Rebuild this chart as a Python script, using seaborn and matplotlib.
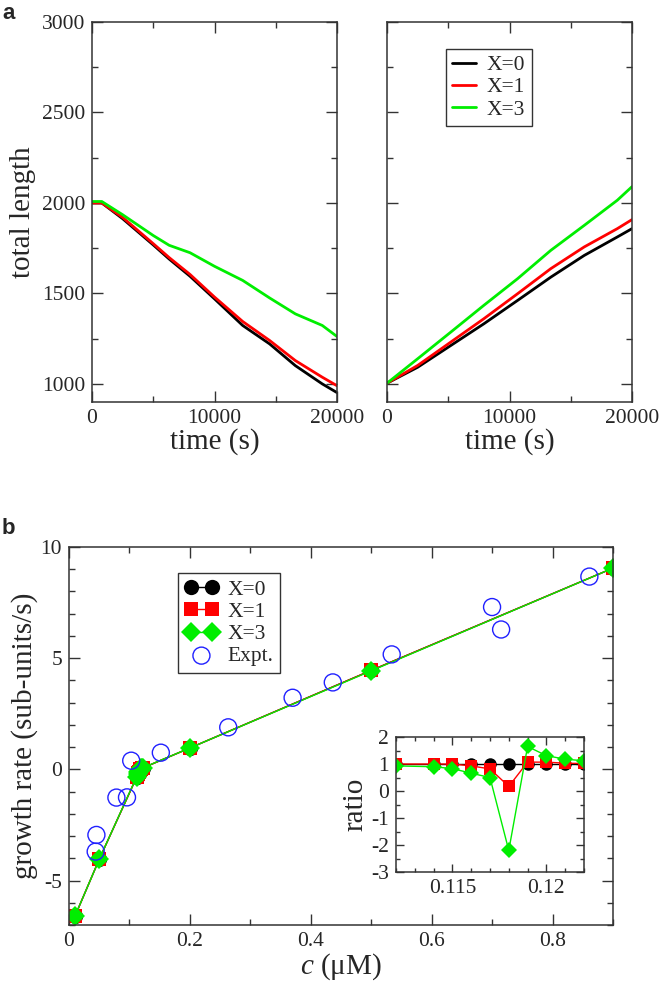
import numpy as np
import pandas as pd
import matplotlib
matplotlib.use('Agg')
import matplotlib.pyplot as plt
from matplotlib.ticker import MultipleLocator, FuncFormatter
import seaborn as sns

# ---- data ----
# panel a, left (shrinking)
t_left = [0, 800, 2500, 5000, 6300, 8000, 10000, 12300, 14500, 16600, 18800, 20000]
left_x0 = [2000, 2000, 1913, 1768, 1690, 1595, 1470, 1323, 1221, 1101, 1000, 952]
left_x1 = [2000, 2000, 1920, 1775, 1698, 1605, 1480, 1345, 1240, 1129, 1037, 990]
left_x3 = [2008, 2008, 1935, 1820, 1766, 1725, 1650, 1572, 1475, 1387, 1323, 1262]

# panel a, right (growing)
t_right = [0, 2500, 5200, 7900, 10650, 13370, 16100, 18800, 20000]
right_x0 = [1004, 1092, 1212, 1332, 1461, 1590, 1710, 1812, 1858]
right_x1 = [1004, 1102, 1231, 1360, 1498, 1637, 1757, 1858, 1908]
right_x3 = [1004, 1139, 1286, 1434, 1581, 1738, 1876, 2015, 2090]

# panel b, simulated growth rates
c_sim = [0.01, 0.05, 0.112, 0.114, 0.115, 0.116, 0.117, 0.118, 0.119, 0.12, 0.121, 0.122, 0.2, 0.5, 0.9]
rate_x0 = [-6.6, -4.05, -0.35, -0.23, -0.17, -0.12, -0.06, 0.01, 0.02, 0.03, 0.045, 0.06, 0.96, 4.45, 9.05]
rate_x1 = [-6.6, -4.05, -0.35, -0.23, -0.17, -0.11, -0.05, 0.002, 0.021, 0.032, 0.046, 0.061, 0.96, 4.45, 9.05]
rate_x3 = [-6.6, -4.05, -0.33, -0.21, -0.14, -0.08, -0.03, -0.022, 0.033, 0.039, 0.053, 0.067, 0.96, 4.43, 9.05]

# experimental points
c_exp = [0.0454, 0.0442, 0.0785, 0.096, 0.103, 0.152, 0.2635, 0.370, 0.4365, 0.534, 0.700, 0.715, 0.861]
rate_exp = [-2.95, -3.70, -1.27, -1.26, 0.39, 0.75, 1.89, 3.22, 3.91, 5.17, 7.30, 6.29, 8.67]

# inset: ratio relative to X=0
c_inset = [0.112, 0.114, 0.115, 0.116, 0.117, 0.118, 0.119, 0.12, 0.121, 0.122]
ratio_x0 = [1, 1, 1, 1, 1, 1, 1, 1, 1, 1]
ratio_x1 = [1.0, 1.0, 1.0, 0.93, 0.82, 0.17, 1.07, 1.07, 1.03, 1.02]
ratio_x3 = [0.93, 0.9, 0.83, 0.66, 0.5, -2.2, 1.65, 1.31, 1.18, 1.12]

labels = ['X=0', 'X=1', 'X=3']
colors = ['black', 'red', '#00ee00']

sns.set_style('ticks')
plt.rcParams['font.family'] = 'serif'
plt.rcParams['font.serif'] = ['Liberation Serif', 'DejaVu Serif']
plt.rcParams['mathtext.fontset'] = 'custom'
plt.rcParams['mathtext.rm'] = 'Liberation Serif'
plt.rcParams['mathtext.it'] = 'Liberation Serif:italic'
plt.rcParams['axes.unicode_minus'] = False

TICK = 15.5
LAB = 21
fmt = FuncFormatter(lambda v, p: f'{round(v, 6):g}')


def style(ax, xmaj, xmin, ymaj, ymin, tl=8, ts=4):
    for s in ax.spines.values():
        s.set_color('#333333')
        s.set_linewidth(1.1)
    ax.xaxis.set_major_locator(MultipleLocator(xmaj))
    ax.xaxis.set_minor_locator(MultipleLocator(xmin))
    ax.yaxis.set_major_locator(MultipleLocator(ymaj))
    ax.yaxis.set_minor_locator(MultipleLocator(ymin))
    ax.xaxis.set_major_formatter(fmt)
    ax.yaxis.set_major_formatter(fmt)
    ax.tick_params(which='both', direction='in', top=True, right=True,
                   color='#333333', labelsize=TICK, width=1)
    ax.tick_params(which='major', length=tl, pad=5)
    ax.tick_params(which='minor', length=ts)


fig = plt.figure(figsize=(6.6, 9.81), dpi=100)
ax1 = fig.add_axes([0.1394, 0.5902, 0.3712, 0.3874])
ax2 = fig.add_axes([0.5864, 0.5902, 0.3712, 0.3874])
ax3 = fig.add_axes([0.1045, 0.0571, 0.8242, 0.3853])
ax4 = fig.add_axes([0.6, 0.1111, 0.2848, 0.1376])

# panel a
for y, col in zip([left_x0, left_x1, left_x3], colors):
    sns.lineplot(x=t_left, y=y, ax=ax1, color=col, lw=2, sort=False, estimator=None)
for y, col, lab in zip([right_x0, right_x1, right_x3], colors, labels):
    sns.lineplot(x=t_right, y=y, ax=ax2, color=col, lw=2, sort=False, estimator=None, label=lab)

for ax in (ax1, ax2):
    ax.set_xlim(0, 20000)
    ax.set_ylim(900, 3000)
    style(ax, 10000, 5000, 500, 250)
    ax.set_xlabel('time (s)', fontsize=LAB, labelpad=0)
ax1.set_ylabel('total length', fontsize=LAB, labelpad=4)
ax2.set_ylabel('')
ax2.tick_params(labelleft=False)

leg = ax2.legend(loc='upper left', bbox_to_anchor=(0.24, 0.93), borderaxespad=0,
                 fontsize=TICK, frameon=True, fancybox=False, handlelength=1.1,
                 handletextpad=0.5, labelspacing=0.1, borderpad=0.3)
leg.get_frame().set_edgecolor('black')
leg.get_frame().set_linewidth(1)

# panel b
markers = ['o', 's', 'D']
msizes = [11, 10.5, 10]
for y, col, lab, m, ms in zip([rate_x0, rate_x1, rate_x3], colors, labels, markers, msizes):
    sns.lineplot(x=c_sim, y=y, ax=ax3, color=col, lw=1, marker=m, markersize=ms,
                 markeredgecolor=col, markeredgewidth=0, sort=False, estimator=None, label=lab)
sns.scatterplot(x=c_exp, y=rate_exp, ax=ax3, marker='o', s=150, facecolor='none',
                edgecolor='#2020ff', linewidth=1, label='Expt.', zorder=5)
ax3.set_xlim(0, 0.9)
ax3.set_ylim(-7, 10)
style(ax3, 0.2, 0.1, 5, 1)
ax3.set_xlabel('$c$ (μM)', fontsize=LAB, labelpad=0)
ax3.set_ylabel('growth rate (sub-units/s)', fontsize=LAB, labelpad=2)

leg = ax3.legend(loc='upper left', bbox_to_anchor=(0.2, 0.931), borderaxespad=0,
                 fontsize=TICK, frameon=True, fancybox=False, numpoints=2,
                 handlelength=1.6, handletextpad=0.4, labelspacing=0.1, borderpad=0.3)
leg.get_frame().set_edgecolor('black')
leg.get_frame().set_linewidth(1)

# inset
imsizes = [9, 8.5, 8]
for y, col, m, ms in zip([ratio_x0, ratio_x1, ratio_x3], colors, markers, imsizes):
    sns.lineplot(x=c_inset, y=y, ax=ax4, color=col, lw=1, marker=m, markersize=ms,
                 markeredgecolor=col, markeredgewidth=0, sort=False, estimator=None)
ax4.set_xlim(0.112, 0.122)
ax4.set_ylim(-3, 2)
style(ax4, 0.005, 0.001, 1, 0.5, tl=6, ts=3)
ax4.set_ylabel('ratio', fontsize=LAB, labelpad=2)
ax4.set_xlabel('')

fig.text(0.003, 0.997, 'a', fontsize=16, fontweight='bold', family='Liberation Sans', va='top')
fig.text(0.003, 0.472, 'b', fontsize=16, fontweight='bold', family='Liberation Sans', va='top')

fig.savefig('out.png', dpi=100)
